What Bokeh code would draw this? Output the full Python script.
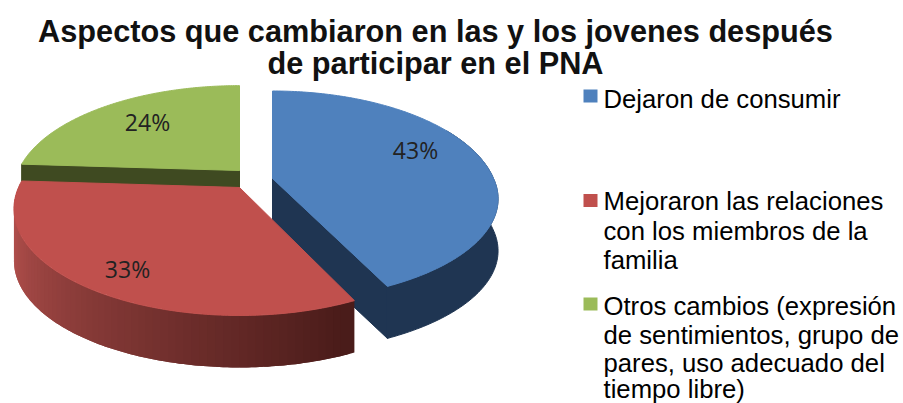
import numpy as np
from bokeh.plotting import figure
from bokeh.embed import file_html
from bokeh.resources import INLINE
from bokeh.core.properties import value
from bokeh.models import Range1d

# ---- data
title_lines = ["Aspectos que cambiaron en las y los jovenes después", "de participar en el PNA"]
categories = ["Dejaron de consumir",
              "Mejoraron las relaciones con los miembros de la familia",
              "Otros cambios (expresión de sentimientos, grupo de pares, uso adecuado del tiempo libre)"]
values = [43, 33, 24]
labels = ["43%", "33%", "24%"]
legend_lines = [["Dejaron de consumir"],
                ["Mejoraron las relaciones", "con los miembros de la", "familia"],
                ["Otros cambios (expresión", "de sentimientos, grupo de", "pares, uso adecuado del", "tiempo libre)"]]

# ---- styles / geometry
top_colors = ["#4F81BD", "#C0504D", "#9BBB59"]
wall_colors = ["#1F3552", "#5F2726", "#3F4A21"]
RX, RY, K, DEPTH = 221.0, 105.0, 0.2, 52.0
centers = [(272, 178), (239, 187), (239, 170)]
upper_scale = [1.0, 1.0, 0.97]   # vertical squash of the back half of each slice
lower_scale = [0.93, 0.975, 1.0]  # and of its front half

def project(i, t):
    t = np.asarray(t, dtype=float)
    cx, cy = centers[i]
    s = 1 / (1 + K * np.cos(t))
    c = np.cos(t)
    v = np.where(c >= 0, upper_scale[i], lower_scale[i])
    return cx + RX * np.sin(t) * s, cy - RY * c * s * v

fracs = np.array(values) / sum(values)
edges = np.concatenate([[0], np.cumsum(fracs)]) * 2 * np.pi

def sector(i, n=160):
    t = np.linspace(edges[i], edges[i + 1], n)
    x, y = project(i, t)
    return np.concatenate([[centers[i][0]], x]), np.concatenate([[centers[i][1]], y])

W, H = 903, 403
p = figure(width=W, height=H, output_backend="svg", toolbar_location=None,
           x_range=Range1d(0, W), y_range=Range1d(H, 0),
           min_border=0, outline_line_color=None, border_fill_color="white",
           background_fill_color="white")
p.axis.visible = False
p.grid.visible = False

# green slice: cut wall seen below the flat edge, then the top
gx, gy = sector(2)
cx, cy = centers[2]
lx, ly = project(2, edges[2])
p.patch([lx, cx, cx, lx], [ly, cy, cy + 17, ly + 17], fill_color=wall_colors[2], line_color=wall_colors[2])
p.patch(gx, gy, fill_color=top_colors[2], line_color=top_colors[2])

# blue slice: outer wall, cut face, top
bx, by = sector(0)
cx, cy = centers[0]
t = np.linspace(np.pi / 3, edges[1], 100)
ox, oy = project(0, t)
p.patch(np.concatenate([ox, ox[::-1]]), np.concatenate([oy, oy[::-1] + DEPTH]),
        fill_color=wall_colors[0], line_color=wall_colors[0])
tx, ty = project(0, edges[1])
p.patch([cx, tx, tx, cx], [cy, ty, ty + DEPTH, cy + DEPTH],
        fill_color=wall_colors[0], line_color=wall_colors[0])
p.patch(bx, by, fill_color=top_colors[0], line_color=top_colors[0])

# red slice: shaded outer wall in overlapping strips, then the top
steps = 70
ts = np.linspace(edges[1], edges[2] - 0.02, steps + 1)
shade_from = np.array([0x4A, 0x1C, 0x1A])
shade_to = np.array([0xAE, 0x4E, 0x4B])
for j in range(steps - 1, -1, -1):
    seg = np.linspace(ts[j], ts[min(j + 2, steps)], 5)
    sx, sy = project(1, seg)
    f = min(1.0, j / (steps * 0.8))
    c = shade_from + (shade_to - shade_from) * f
    col = "#%02x%02x%02x" % tuple(int(v) for v in c)
    p.patch(np.concatenate([sx, sx[::-1]]), np.concatenate([sy, sy[::-1] + DEPTH]),
            fill_color=col, line_color=None)
rx, ry = sector(1)
p.patch(rx, ry, fill_color=top_colors[1], line_color=top_colors[1])

# slice labels
p.text([415, 127, 147], [149, 268, 121], text=labels, text_font=value("Open Sans"),
       text_font_size="23px", text_color="#222222", text_align="center", text_baseline="middle")

# title
p.text([435, 435], [31, 63], text=title_lines, text_font=value("Liberation Sans"),
       text_font_size="30.7px", text_font_style="bold", text_color="#111111",
       text_align="center", text_baseline="middle")

# legend
square_y = [95.5, 200, 303.5]
line_y = [[98], [200, 230, 259], [305, 334, 362, 388]]
p.rect([590] * 3, square_y, width=14, height=13, fill_color=top_colors, line_color=None)
for lines, ys in zip(legend_lines, line_y):
    p.text([603] * len(lines), ys, text=lines, text_font=value("Liberation Sans"),
           text_font_size="25.7px", text_color="#000000", text_align="left", text_baseline="middle")

open("out.html", "w").write(file_html(p, INLINE))
